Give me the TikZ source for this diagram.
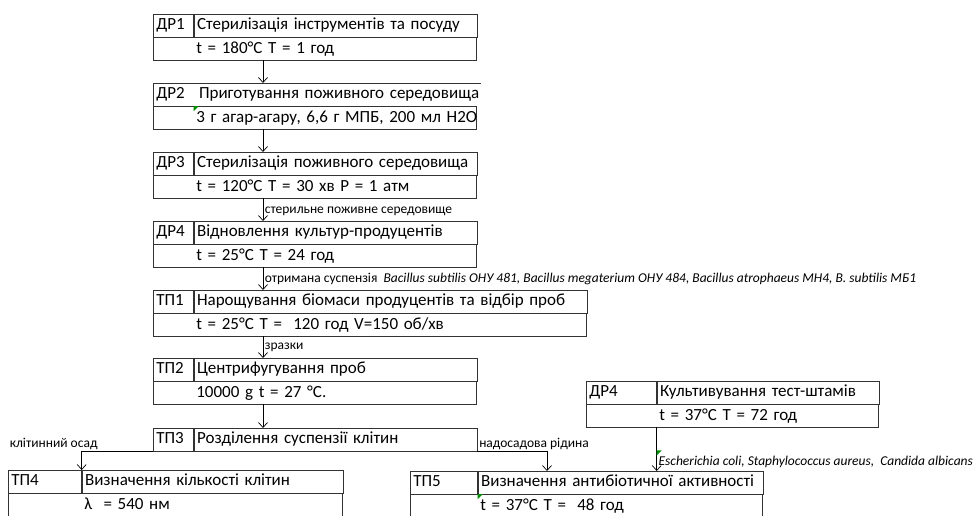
\documentclass[tikz,border=0pt]{standalone}
\usepackage{fontspec}
\setmainfont{Carlito}
\usetikzlibrary{arrows.meta, positioning, calc}
\tikzset{
  flow/.style={
	x=1pt, y=-1pt, % screen-like units, y grows downwards
	line width=0.7pt, % thin cell borders
	>={Straight Barb[length=5pt, width=9pt]}, % open arrow heads
	font=\fontsize{17}{20}\selectfont,
  },
  cell/.style={draw=black!80, anchor=north west, minimum height=22.5pt, inner xsep=3pt, inner ysep=0pt,
	text height=12pt, text depth=3.5pt, align=left},
  tagcell/.style={cell, text width=#1, execute at begin node={\hbox\bgroup}, execute at end node={\egroup}}, % left column
  titlecell/.style={cell, text width=#1, execute at begin node={\hbox\bgroup}, execute at end node={\egroup}}, % name of the step
  paramcell/.style 2 args={cell, text width=#1, execute at begin node={\hbox\bgroup\hspace*{#2}}, execute at end node={\egroup}}, % regime line
  lab/.style={font=\fontsize{13.5}{15}\selectfont, inner sep=1.5pt},
  errmark/.style={fill=green!55!black},
}
\begin{document}
\begin{tikzpicture}[flow]
\useasboundingbox (0,0) rectangle (973,515);

% main line
\node[tagcell=34] (dr1t) at (153,14) {ДР1};
\node[titlecell=277] (dr1n) at (dr1t.north east) {Стерилізація інструментів та посуду};
\node[paramcell={317}{40pt}] (dr1p) at (dr1t.south west) {t = 180°C T = 1 год};

\node[tagcell=34, draw=none] (dr2t) at (153,83) {ДР2};
\node[titlecell=277, draw=none] (dr2n) at (dr2t.north east) {\hspace*{2pt}Приготування поживного середовища};
\node[paramcell={317}{40pt}] (dr2p) at (dr2t.south west) {3 г агар-агару, 6,6 г МПБ, 200 мл H2O};
\draw[draw=black!80] (dr2t.south west) -- (dr2t.north west) -- ([xshift=4pt]dr2n.north east);

\node[tagcell=34] (dr3t) at (153,152) {ДР3};
\node[titlecell=277] (dr3n) at (dr3t.north east) {Стерилізація поживного середовища};
\node[paramcell={317}{40pt}] (dr3p) at (dr3t.south west) {t = 120°C T = 30 хв P = 1 атм};

\node[tagcell=34] (dr4t) at (153,221) {ДР4};
\node[titlecell=277] (dr4n) at (dr4t.north east) {Відновлення культур-продуцентів};
\node[paramcell={317}{40pt}] (dr4p) at (dr4t.south west) {t = 25°C T = 24 год};

\node[tagcell=34] (tp1t) at (153,290) {ТП1};
\node[titlecell=387] (tp1n) at (tp1t.north east) {Нарощування біомаси продуцентів та відбір проб};
\node[paramcell={427}{40pt}] (tp1p) at (tp1t.south west) {t = 25°C T = \ 120 год V=150 об/хв};

\node[tagcell=34] (tp2t) at (153,358) {ТП2};
\node[titlecell=277] (tp2n) at (tp2t.north east) {Центрифугування проб};
\node[paramcell={317}{40pt}] (tp2p) at (tp2t.south west) {10000 g t = 27 °C.};

\node[tagcell=34] (tp3t) at (153,428) {ТП3};
\node[titlecell=277] (tp3n) at (tp3t.north east) {Розділення суспензії клітин};

% branches
\node[tagcell=67] (tp4t) at (8,470) {ТП4};
\node[titlecell=255] (tp4n) at (tp4t.north east) {Визначення кількості клітин};
\node[paramcell={328}{73pt}] (tp4p) at (tp4t.south west) {λ \ = 540 нм};

\node[tagcell=61] (tp5t) at (410,471) {ТП5};
\node[titlecell=279] (tp5n) at (tp5t.north east) {Визначення антибіотичної активності};
\node[paramcell={346}{67pt}] (tp5p) at (tp5t.south west) {t = 37°C T = \ 48 год};

\node[tagcell=64] (dr5t) at (586,381) {ДР4};
\node[titlecell=216] (dr5n) at (dr5t.north east) {Культивування тест-штамів};
\node[paramcell={286}{70pt}] (dr5p) at (dr5t.south west) {t = 37°C T = 72 год};

% arrows
\draw[->] ([xshift=110pt]dr1p.south west) -- ([xshift=110pt]dr2t.north west);
\draw[->] ([xshift=110pt]dr2p.south west) -- ([xshift=110pt]dr3t.north west);
\draw[->] ([xshift=110pt]dr3p.south west) -- ([xshift=110pt]dr4t.north west)
	node[lab, right, pos=0.55] (l1) {стерильне поживне середовище};
\draw[->] ([xshift=110pt]dr4p.south west) -- ([xshift=110pt]tp1t.north west)
	node[lab, right, pos=0.5] (l2) {отримана суспензія \ \textit{Bacillus subtilis ОНУ 481, Bacillus megaterium ОНУ 484, Bacillus atrophaeus МН4, B. subtilis МБ1}};
\draw[->] ([xshift=110pt]tp1p.south west) -- ([xshift=110pt]tp2t.north west)
	node[lab, right, pos=0.5] (l3) {зразки};
\draw[->] ([xshift=110pt]tp2p.south west) -- ([xshift=110pt]tp3t.north west);
\draw[->] (tp3t.south west) -| (tp4t.north east);
\draw[->] (tp3n.south east) -| ([xshift=137pt]tp5t.north west);
\draw[->] (dr5p.south west -| dr5t.east) -- (tp5t.north west -| dr5t.east)
	node[lab, right, pos=0.8] (l6) {\textit{Escherichia coli, Staphylococcus aureus, \ Candida albicans}};
\node[lab, anchor=south west] (l4) at (tp4t.north west |- tp3t.south) {клітинний осад};
\node[lab, anchor=south west] (l5) at (tp3n.south east) {надосадова рідина};

% excel error marks
\fill[errmark] (dr2p.north west -| dr2t.east) -- ++(5,0) -- ++(-5,5) -- cycle;
\fill[errmark] (tp5p.north west -| tp5t.east) -- ++(5,0) -- ++(-5,5) -- cycle;
\fill[errmark] ([yshift=-23pt]dr5p.south west -| dr5t.east) -- ++(5,0) -- ++(-5,5) -- cycle;
\end{tikzpicture}
\end{document}
